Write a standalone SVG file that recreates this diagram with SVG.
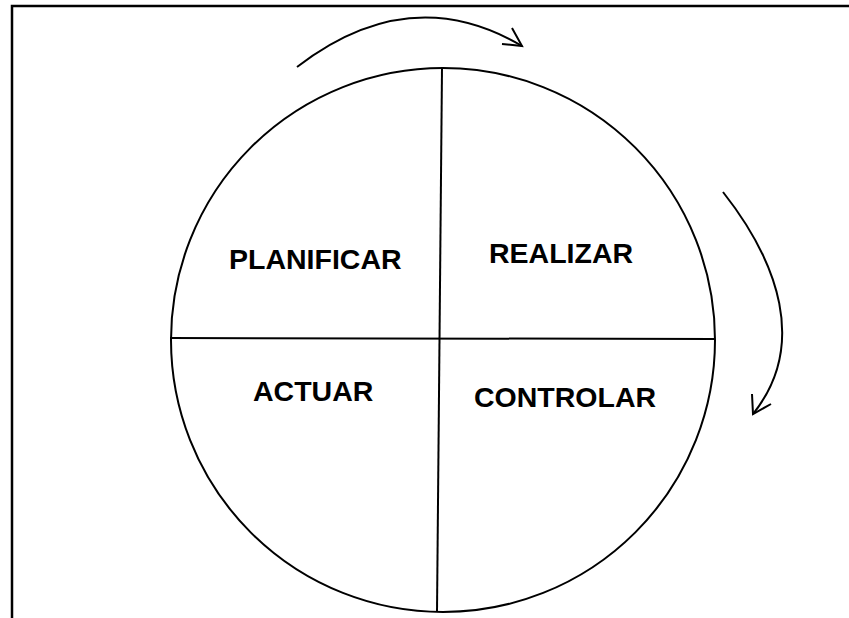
<svg xmlns="http://www.w3.org/2000/svg" width="849" height="618" viewBox="0 0 849 618">
<style>
.ln{fill:none;stroke:#000;stroke-width:2}
.fr{fill:none;stroke:#000;stroke-width:2.5}
.lbl{font-family:"Liberation Sans",Arial,sans-serif;font-weight:bold;font-size:28.5px;fill:#000}
</style>
<rect width="849" height="618" fill="#fff"/>
<path class="fr" d="M12,618 V6 H849"/>
<g id="circle">
<circle class="ln" cx="443" cy="340" r="272"/>
<line class="ln" x1="442" y1="68" x2="437" y2="612"/>
<line class="ln" x1="170" y1="338" x2="714" y2="339"/>
</g>
<g id="planificar"><text class="lbl" x="229" y="269">PLANIFICAR</text></g>
<g id="realizar"><text class="lbl" x="489" y="263">REALIZAR</text></g>
<g id="actuar"><text class="lbl" x="253" y="401">ACTUAR</text></g>
<g id="controlar"><text class="lbl" x="474" y="407">CONTROLAR</text></g>
<g id="connectors">
<path class="ln" d="M297,67 Q410,-20 522,46"/>
<path class="ln" d="M502,44 L522,46 L512,28"/>
<path class="ln" d="M723,192 C778,262 808,345 753,414"/>
<path class="ln" d="M752,394 L753,414 L771,404"/>
</g>
</svg>
